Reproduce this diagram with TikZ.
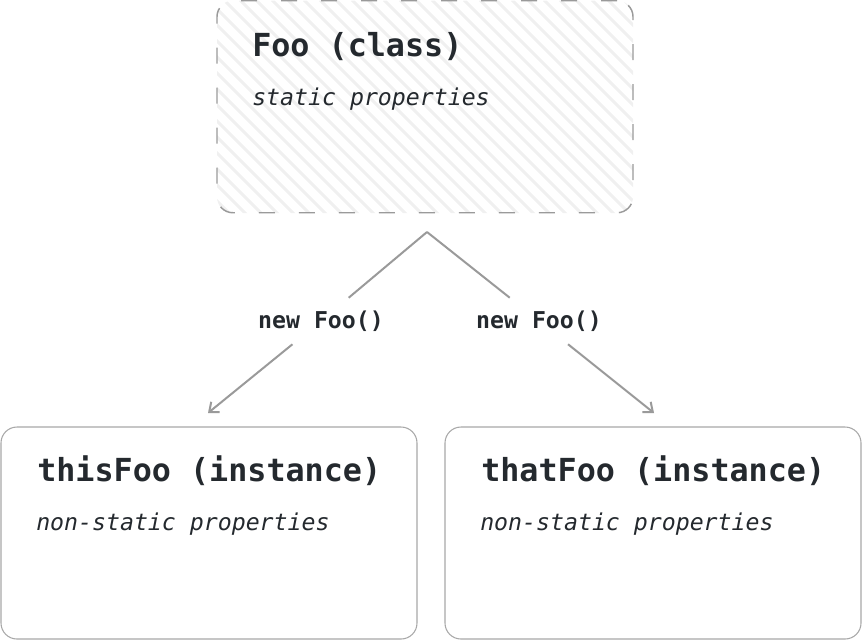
\documentclass[tikz,border=0pt]{standalone}
\usepackage{fontspec}
\setmonofont{DejaVu Sans Mono}
\usetikzlibrary{arrows.meta}
\definecolor{ink}{HTML}{24292E}
\definecolor{edge}{HTML}{9A9A9A}
\definecolor{boxedge}{HTML}{A8A8A8}
\definecolor{hatch}{HTML}{F0F0F0}
\begin{document}
\begin{tikzpicture}[x=0.75pt,y=-0.75pt,
  box/.style={draw=boxedge, line width=0.8pt, rounded corners=12pt,
    minimum width=312pt, minimum height=159pt, inner sep=0pt},
  classbox/.style={box, draw=edge, line width=1.1pt, dash pattern=on 12pt off 18pt},
  titletext/.style={font=\ttfamily\bfseries\fontsize{23.8}{28}\selectfont, text=ink,
    anchor=base west, inner sep=0pt},
  subtext/.style={font=\ttfamily\itshape\fontsize{17.4}{20}\selectfont, text=ink,
    anchor=base west, inner sep=0pt},
  lbl/.style={font=\ttfamily\bfseries\fontsize{17.4}{20}\selectfont, text=ink,
    minimum height=34.5pt, inner xsep=4pt, inner ysep=0pt},
  conn/.style={draw=edge, line width=1.5pt},
  arr/.style={conn, -{Straight Barb[length=6pt, width=10pt, line width=1.5pt]}}
]
\useasboundingbox (0,0) rectangle (862,640);

% hatching of the class box
\begin{scope}
  \clip[rounded corners=12pt] (217,0.5) rectangle (633,213);
  \foreach \k in {-240,-224,...,640} {
    \draw[hatch, line width=2.2pt] (\k,0) -- (\k+220,220);
  }
\end{scope}

% boxes
\node[classbox] (foo) at (425,106.75) {};
\node[box] (this) at (209,533) {};
\node[box] (that) at (653,533) {};

% texts
\node[titletext] (footitle) at (252,56) {Foo (class)};
\node[subtext] (foosub) at (252,105) {static properties};
\node[titletext] (thistitle) at (37,481) {thisFoo (instance)};
\node[subtext] (thissub) at (36,530) {non-static properties};
\node[titletext] (thattitle) at (481,481) {thatFoo (instance)};
\node[subtext] (thatsub) at (480,530) {non-static properties};

% connectors
\coordinate (apex) at (427,232);
\node[lbl] (l1) at (321,321) {new Foo()};
\node[lbl] (l2) at (539,321) {new Foo()};
\coordinate (t1) at (208,413);
\coordinate (t2) at (654,413);

\draw[conn] (apex) -- (l1);
\draw[conn] (apex) -- (l2);
\draw[arr] (l1) -- (t1);
\draw[arr] (l2) -- (t2);
\end{tikzpicture}
\end{document}
